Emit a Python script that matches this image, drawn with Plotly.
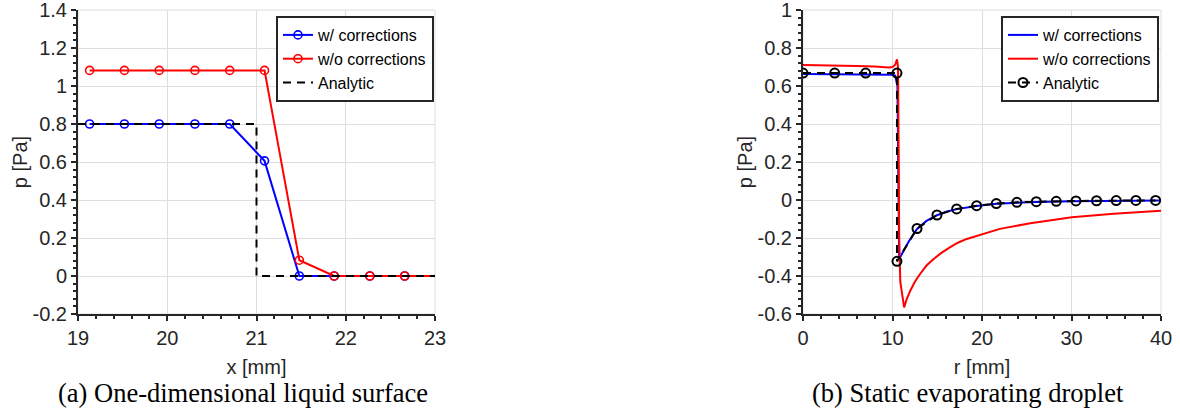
import plotly.graph_objects as go

# ---------------- data: (a) one-dimensional liquid surface ----------------
xa_pts = [19.13, 19.52, 19.91, 20.31, 20.70, 21.09, 21.48, 21.87, 22.27, 22.66, 23.05]
pa_with = [0.80, 0.80, 0.80, 0.80, 0.80, 0.606, 0.0, 0.0, 0.0, 0.0, 0.0]
pa_without = [1.082, 1.082, 1.082, 1.082, 1.082, 1.082, 0.083, 0.0, 0.0, 0.0, 0.0]
xa_analytic = [19.0, 21.0, 21.0, 23.0]
pa_analytic = [0.80, 0.80, 0.0, 0.0]

# ---------------- data: (b) static evaporating droplet ----------------
rb_with = [0.0, 3.5, 7.0, 9.9, 10.3, 10.55, 10.75, 11.2, 11.8, 12.74, 13.8, 14.97,
           16.0, 17.17, 18.3, 19.4, 21.6, 23.9, 26.1, 30.0, 35.0, 40.0]
pb_with = [0.663, 0.662, 0.661, 0.659, 0.655, 0.60, -0.31, -0.27, -0.22, -0.152, -0.11, -0.080,
           -0.062, -0.048, -0.038, -0.031, -0.020, -0.014, -0.010, -0.006, -0.004, -0.003]

rb_without = [0.0, 2.0, 4.0, 6.0, 8.0, 9.0, 9.6, 10.0, 10.3, 10.5, 10.62, 10.75, 10.87,
              11.3, 11.6, 12.0, 12.5, 13.1, 13.8, 14.6, 15.5, 16.45, 17.3, 18.3, 20.07,
              22.0, 25.4, 30.05, 34.7, 40.0]
pb_without = [0.710, 0.709, 0.707, 0.705, 0.702, 0.699, 0.697, 0.700, 0.712, 0.740, 0.70,
              -0.20, -0.43, -0.565, -0.52, -0.476, -0.43, -0.388, -0.345, -0.310, -0.277,
              -0.248, -0.225, -0.205, -0.178, -0.152, -0.122, -0.091, -0.073, -0.057]

rb_analytic = [0.0, 3.54, 7.0, 10.5, 10.5, 12.74, 14.97, 17.17, 19.4, 21.6, 23.9, 26.07,
               28.3, 30.5, 32.8, 35.0, 37.2, 39.4]
pb_analytic = [0.668, 0.668, 0.668, 0.668, -0.323, -0.150, -0.079, -0.047, -0.030, -0.019,
               -0.012, -0.009, -0.007, -0.005, -0.004, -0.003, -0.002, -0.002]

# ---------------- ticks and labels ----------------
ya_ticks = [-0.2, 0, 0.2, 0.4, 0.6, 0.8, 1.0, 1.2, 1.4]
ya_labels = ["-0.2", "0", "0.2", "0.4", "0.6", "0.8", "1", "1.2", "1.4"]
yb_ticks = [-0.6, -0.4, -0.2, 0, 0.2, 0.4, 0.6, 0.8, 1.0]
yb_labels = ["-0.6", "-0.4", "-0.2", "0", "0.2", "0.4", "0.6", "0.8", "1"]
xa_ticks = [19, 20, 21, 22, 23]
xb_ticks = [0, 10, 20, 30, 40]

legend_names = ["w/ corrections", "w/o corrections", "Analytic"]
captions = ["(a) One-dimensional liquid surface", "(b) Static evaporating droplet"]
xa_title = "x [mm]"
xb_title = "r [mm]"
y_title = "p [Pa]"

BLUE = "#0000ff"
RED = "#ff0000"
SANS = "Liberation Sans, Arial, sans-serif"
SERIF = "Liberation Serif, Times New Roman, serif"

fig = go.Figure()

# (a)
fig.add_trace(go.Scatter(x=xa_pts, y=pa_with, mode="lines+markers", name=legend_names[0],
                         line=dict(color=BLUE, width=2),
                         marker=dict(symbol="circle-open", size=8, color=BLUE, line=dict(width=1.6)),
                         xaxis="x", yaxis="y", legend="legend"))
fig.add_trace(go.Scatter(x=xa_pts, y=pa_without, mode="lines+markers", name=legend_names[1],
                         line=dict(color=RED, width=2),
                         marker=dict(symbol="circle-open", size=8, color=RED, line=dict(width=1.6)),
                         xaxis="x", yaxis="y", legend="legend"))
fig.add_trace(go.Scatter(x=xa_analytic, y=pa_analytic, mode="lines", name=legend_names[2],
                         line=dict(color="black", width=2, dash="8px,6px"),
                         xaxis="x", yaxis="y", legend="legend"))

# (b)
fig.add_trace(go.Scatter(x=rb_with, y=pb_with, mode="lines", name=legend_names[0],
                         line=dict(color=BLUE, width=2),
                         xaxis="x2", yaxis="y2", legend="legend2"))
fig.add_trace(go.Scatter(x=rb_without, y=pb_without, mode="lines", name=legend_names[1],
                         line=dict(color=RED, width=2),
                         xaxis="x2", yaxis="y2", legend="legend2"))
fig.add_trace(go.Scatter(x=rb_analytic, y=pb_analytic, mode="lines+markers", name=legend_names[2],
                         line=dict(color="black", width=2, dash="8px,6px"),
                         marker=dict(symbol="circle-open", size=9, color="black", line=dict(width=2)),
                         xaxis="x2", yaxis="y2", legend="legend2"))

GRID = "#dedede"
AXC = "#262626"
tickfont = dict(family=SANS, size=20, color=AXC)


def xaxis_style(domain, rng, ticks, minor_dt, title, anchor):
    return dict(domain=domain, range=rng, tickvals=ticks, anchor=anchor, automargin=False,
                showgrid=True, gridcolor=GRID, gridwidth=1, zeroline=False,
                showline=True, linecolor=AXC, linewidth=2, mirror=False,
                ticks="outside", ticklen=5, tickwidth=1.5, tickcolor=AXC,
                ticklabeloverflow="allow",
                minor=dict(dtick=minor_dt, ticks="outside", ticklen=3, tickwidth=1.5,
                           tickcolor=AXC, showgrid=False),
                tickfont=tickfont,
                title=dict(text=title, font=dict(family=SANS, size=20, color=AXC), standoff=12))


def yaxis_style(rng, ticks, labels, anchor):
    return dict(domain=[0, 1], range=rng, tickvals=ticks, ticktext=labels, anchor=anchor,
                automargin=False,
                showgrid=True, gridcolor=GRID, gridwidth=1, zeroline=False,
                showline=True, linecolor=AXC, linewidth=2, mirror=False,
                ticks="outside", ticklen=5, tickwidth=1.5, tickcolor=AXC,
                ticklabeloverflow="allow",
                minor=dict(dtick=0.04, ticks="outside", ticklen=3, tickwidth=1.5,
                           tickcolor=AXC, showgrid=False),
                tickfont=tickfont,
                title=dict(text=y_title, font=dict(family=SANS, size=20, color=AXC), standoff=0))


legend_style = dict(bgcolor="white", bordercolor=AXC, borderwidth=2,
                    font=dict(family=SANS, size=16, color="black"),
                    xanchor="left", yanchor="top", itemwidth=30, tracegroupgap=0)

# light frame on the top/right edges of each plot area (grid edge lines)
frames = []
for xd in (("x domain", "y domain"), ("x2 domain", "y2 domain")):
    frames.append(dict(type="rect", xref=xd[0], yref=xd[1], x0=0, x1=1, y0=0, y1=1,
                       line=dict(color=GRID, width=1), layer="below"))

fig.update_layout(
    width=1180, height=412,
    margin=dict(l=0, r=0, t=10, b=98, autoexpand=False),
    paper_bgcolor="white", plot_bgcolor="white",
    xaxis=xaxis_style([78 / 1180, 435 / 1180], [19, 23], xa_ticks, 0.2, xa_title, "y"),
    yaxis=yaxis_style([-0.2, 1.4], ya_ticks, ya_labels, "x"),
    xaxis2=xaxis_style([803 / 1180, 1161 / 1180], [0, 40], xb_ticks, 2, xb_title, "y2"),
    yaxis2=yaxis_style([-0.6, 1.0], yb_ticks, yb_labels, "x2"),
    legend=dict(x=276 / 1180, y=(314 - 16) / 304, **legend_style),
    legend2=dict(x=1001 / 1180, y=(314 - 16) / 304, **legend_style),
    showlegend=True,
    shapes=frames,
    annotations=[
        dict(text=captions[0], x=242.5 / 1180, y=(314 - 393) / 304, xref="paper", yref="paper",
             showarrow=False, xanchor="center", yanchor="middle",
             font=dict(family=SERIF, size=26.5, color="black")),
        dict(text=captions[1], x=967.5 / 1180, y=(314 - 393) / 304, xref="paper", yref="paper",
             showarrow=False, xanchor="center", yanchor="middle",
             font=dict(family=SERIF, size=26.5, color="black")),
    ],
)

fig.write_html("out.html", config={"displayModeBar": False},
               post_script="document.body.style.margin='0';")
